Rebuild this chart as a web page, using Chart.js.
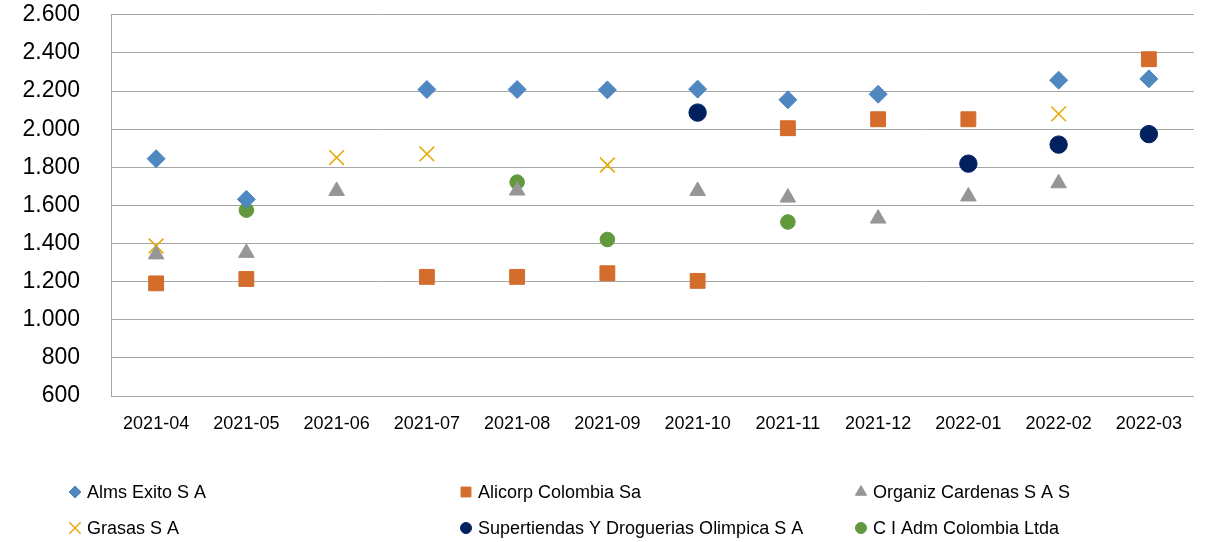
<!DOCTYPE html>
<html>
<head>
<meta charset="utf-8">
<script src="https://cdn.jsdelivr.net/npm/chart.js@4.4.0/dist/chart.umd.min.js"></script>
<style>
  body { margin: 0; background: #fff; }
</style>
</head>
<body>
<canvas id="chart" width="1206" height="542"></canvas>
<script>
// categories (months)
const months = ["2021-04", "2021-05", "2021-06", "2021-07", "2021-08", "2021-09",
  "2021-10", "2021-11", "2021-12", "2022-01", "2022-02", "2022-03"];

// series values (null = no point)
const almsExito = [1845, 1632, null, 2208, 2208, 2206, 2210, 2154, 2183, null, 2257, 2264];
const alicorp = [1191, 1214, null, 1225, 1225, 1244, 1204, 2005, 2052, 2052, null, 2367];
const organizCardenas = [1343, 1351, 1676, null, 1678, null, 1676, 1641, 1531, 1647, 1716, null];
const grasas = [1387, null, 1851, 1870, null, 1812, null, null, null, null, 2080, null];
const supertiendas = [null, null, null, null, null, null, 2087, null, null, 1819, 1919, 1974];
const ciAdm = [null, 1575, null, null, 1722, 1421, null, 1513, null, null, null, null];

// y axis ticks
const yMin = 600;
const yMax = 2600;
const yStep = 200;

const FONT = '"Liberation Sans", Arial, sans-serif';

// legend grid layout (3 columns x 2 rows)
const legendCols = [75, 466, 861];
const legendRows = [492, 528];

const gridLegend = {
  id: "gridLegend",
  afterDraw(chart) {
    const ctx = chart.ctx;
    ctx.save();
    ctx.font = "18px " + FONT;
    ctx.textBaseline = "middle";
    ctx.textAlign = "left";
    chart.data.datasets.forEach((ds, i) => {
      const x = legendCols[i % 3];
      const y = legendRows[Math.floor(i / 3)];
      ctx.fillStyle = ds.backgroundColor;
      ctx.strokeStyle = ds.borderColor;
      ctx.lineWidth = ds.pointStyle === "crossRot" ? 1.5 : 1;
      Chart.helpers.drawPoint(ctx, {
        pointStyle: ds.pointStyle,
        radius: ds.legendRadius,
        rotation: 0,
        borderWidth: ctx.lineWidth
      }, x, y);
      ctx.fillStyle = "#000";
      ctx.fillText(ds.label, x + 12, y + 1);
    });
    ctx.restore();
  }
};

function series(label, data, color, style, radius, legendRadius) {
  return {
    label: label,
    data: data,
    showLine: false,
    backgroundColor: color,
    borderColor: color,
    pointStyle: style,
    pointRadius: radius,
    pointHoverRadius: radius,
    pointBorderWidth: style === "crossRot" ? 1.6 : 1,
    legendRadius: legendRadius
  };
}

new Chart(document.getElementById("chart"), {
  type: "line",
  data: {
    labels: months,
    datasets: [
      series("Alms Exito S A", almsExito, "#4F87C1", "rectRot", 9, 6),
      series("Alicorp Colombia Sa", alicorp, "#D46C2B", "rect", 10.5, 7),
      series("Organiz Cardenas S A S", organizCardenas, "#969696", "triangle", 9, 6.5),
      series("Grasas S A", grasas, "#E8A90A", "crossRot", 10.4, 8),
      series("Supertiendas Y Droguerias Olimpica S A", supertiendas, "#002060", "circle", 8.7, 5.5),
      series("C I Adm Colombia Ltda", ciAdm, "#62993D", "circle", 7.3, 5.5)
    ]
  },
  options: {
    responsive: false,
    animation: false,
    layout: { autoPadding: false, padding: { top: 0, right: 12, left: 0, bottom: 0 } },
    plugins: {
      legend: { display: false },
      tooltip: { enabled: false }
    },
    scales: {
      x: {
        offset: true,
        grid: { display: false, drawTicks: false },
        border: { display: false },
        ticks: {
          color: "#000",
          font: { family: FONT, size: 18 },
          padding: 17,
          maxRotation: 0,
          autoSkip: false
        },
        afterFit(scale) { scale.height = 146; }
      },
      y: {
        min: yMin,
        max: yMax,
        grid: { color: "#a6a6a6", lineWidth: 1, drawTicks: true, tickLength: 30, tickColor: "rgba(0,0,0,0)" },
        border: { display: true, color: "#a6a6a6", width: 1 },
        ticks: {
          stepSize: yStep,
          color: "#000",
          font: { family: FONT, size: 23 },
          padding: 1,
          callback: (v) => v.toLocaleString("de-DE")
        },
        afterFit(scale) { scale.width = 111; }
      }
    }
  },
  plugins: [gridLegend]
});
</script>
</body>
</html>
